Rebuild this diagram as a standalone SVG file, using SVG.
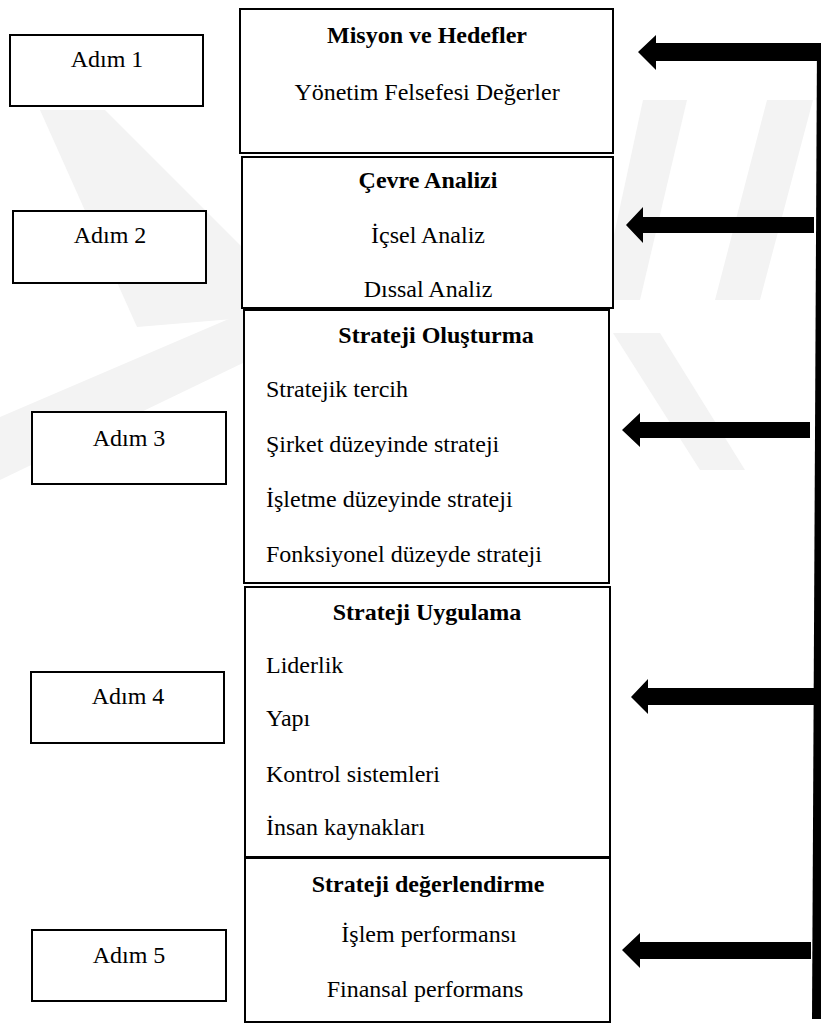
<svg xmlns="http://www.w3.org/2000/svg" width="821" height="1024" viewBox="0 0 821 1024">
<style>
  .box{fill:#fff;stroke:#000;stroke-width:2}
  .t{font-size:24px;fill:#000}
  .b{font-weight:bold}
  .m{text-anchor:middle}
  .wm{fill:#f3f3f3}
  .arr{fill:#000}
</style>
<rect width="821" height="1024" fill="#fff"/>
<g id="watermark">
  <polygon class="wm" points="40,110 105,110 245,250 245,318 137,327"/>
  <polygon class="wm" points="0,417 245,312 245,362 0,480"/>
  <polygon class="wm" points="613,333 660,333 745,470 700,470"/>
  <polygon class="wm" points="643,100 687,100 640,300 600,300"/>
  <polygon class="wm" points="767,100 813,100 760,300 715,300"/>
</g>
<g font-family="Liberation Serif, Times New Roman, DejaVu Serif, serif">
<g id="adim1"><rect class="box" x="10" y="35" width="193" height="71"/><text class="t m" x="107" y="67">Adım 1</text></g>
<g id="adim2"><rect class="box" x="13" y="211" width="193" height="72"/><text class="t m" x="110" y="243">Adım 2</text></g>
<g id="adim3"><rect class="box" x="32" y="412" width="194" height="72"/><text class="t m" x="129" y="446">Adım 3</text></g>
<g id="adim4"><rect class="box" x="31" y="672" width="193" height="71"/><text class="t m" x="128" y="704">Adım 4</text></g>
<g id="adim5"><rect class="box" x="32" y="930" width="194" height="71"/><text class="t m" x="129" y="963">Adım 5</text></g>
<g id="misyon"><rect class="box" x="240" y="9" width="373" height="144"/>
  <text class="t b m" x="427" y="43">Misyon ve Hedefler</text>
  <text class="t m" x="427" y="100">Yönetim Felsefesi Değerler</text></g>
<g id="cevre"><rect class="box" x="242" y="157" width="371" height="151"/>
  <text class="t b m" x="428" y="188">Çevre Analizi</text>
  <text class="t m" x="428" y="243">İçsel Analiz</text>
  <text class="t m" x="428" y="297">Dıssal Analiz</text></g>
<g id="olusturma"><rect class="box" x="244" y="310" width="365" height="273"/>
  <text class="t b m" x="436" y="343">Strateji Oluşturma</text>
  <text class="t" x="266" y="397">Stratejik tercih</text>
  <text class="t" x="266" y="452">Şirket düzeyinde strateji</text>
  <text class="t" x="266" y="507">İşletme düzeyinde strateji</text>
  <text class="t" x="266" y="562">Fonksiyonel düzeyde strateji</text></g>
<g id="uygulama"><rect class="box" x="245" y="587" width="365" height="270"/>
  <text class="t b m" x="427" y="620">Strateji Uygulama</text>
  <text class="t" x="266" y="673">Liderlik</text>
  <text class="t" x="266" y="726">Yapı</text>
  <text class="t" x="266" y="782">Kontrol sistemleri</text>
  <text class="t" x="266" y="835">İnsan kaynakları</text></g>
<g id="degerlendirme"><rect class="box" x="245" y="858" width="365" height="164"/>
  <text class="t b m" x="428" y="892">Strateji değerlendirme</text>
  <text class="t m" x="429" y="942">İşlem performansı</text>
  <text class="t m" x="425" y="997">Finansal performans</text></g>
</g>
<g id="connectors">
  <polygon class="arr" points="817,43 822,43 822,1019 812,1019"/>
  <polygon class="arr" points="638,52 656,35 656,43 821,43 821,61 656,61 656,70"/>
  <polygon class="arr" points="626,225 643,207 643,217 814,217 814,233 643,233 643,243"/>
  <polygon class="arr" points="622,430 640,413 640,422 810,422 810,438 640,438 640,447"/>
  <polygon class="arr" points="631,697 648,679 648,688 814,688 814,705 648,705 648,714"/>
  <polygon class="arr" points="622,950 640,933 640,942 811,942 811,959 640,959 640,968"/>
</g>
</svg>
